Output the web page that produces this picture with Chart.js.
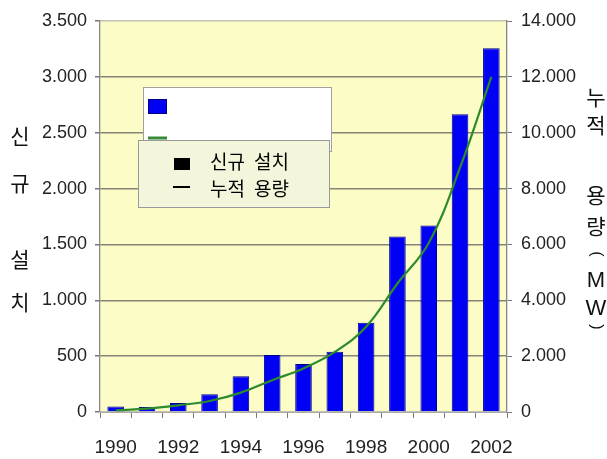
<!DOCTYPE html>
<html>
<head>
<meta charset="utf-8">
<script src="https://cdn.jsdelivr.net/npm/chart.js@4.4.1/dist/chart.umd.min.js"></script>
<style>
  body { margin: 0; background: #fff; }
  canvas { display: block; }
</style>
</head>
<body>
<canvas id="windChart" width="607" height="459"></canvas>
<script>
const years = ["1990", "1991", "1992", "1993", "1994", "1995", "1996", "1997", "1998", "1999", "2000", "2001", "2002"];
// new installations per year (left axis)
const newInstall = [50, 45, 80, 160, 320, 510, 430, 540, 800, 1570, 1670, 2665, 3255];
// cumulative capacity in MW (right axis)
const cumulative = [60, 120, 240, 395, 695, 1140, 1560, 2150, 3050, 4600, 6050, 8750, 12000];

const leftTitle = ["신", "규", "설", "치"];
const rightTitle = ["누", "적", "용", "량", "(", "M", "W", ")"];
const legendLabels = ["신규 설치", "누적 용량"];

const dotFormat = v => String(v).replace(/\B(?=(\d{3})+(?!\d))/g, ".");

const tickFont = { family: "'Liberation Sans', Arial, sans-serif", size: 18 };
const cjkFont = "'Noto Sans CJK KR', sans-serif";

const plotBackground = {
    id: "plotBackground",
    beforeDraw(chart) {
        const { ctx, chartArea: a } = chart;
        ctx.save();
        ctx.fillStyle = "#fcfcc6";
        ctx.fillRect(a.left, a.top, a.right - a.left, a.bottom - a.top);
        ctx.restore();
    }
};

const extras = {
    id: "extras",
    afterDraw(chart) {
        const ctx = chart.ctx;
        ctx.save();

        // vertical axis titles, one character per row
        ctx.fillStyle = "#111";
        ctx.font = "21px " + cjkFont;
        ctx.textAlign = "center";
        ctx.textBaseline = "middle";
        const leftY = [136, 183, 259, 302];
        leftTitle.forEach((ch, i) => ctx.fillText(ch, 20, leftY[i]));

        const rightY = [97, 125, 195, 226, 254, 281, 309, 327];
        rightTitle.forEach((ch, i) => {
            if (ch === "(" || ch === ")") {
                ctx.save();
                ctx.translate(596, rightY[i]);
                ctx.rotate(Math.PI / 2);
                ctx.font = "16px 'Liberation Sans', sans-serif";
                ctx.fillText(ch, 0, 0);
                ctx.restore();
            } else {
                ctx.font = (/[A-Z]/.test(ch) ? "22px 'Liberation Sans', sans-serif" : "21px " + cjkFont);
                ctx.fillText(ch, 596, rightY[i]);
            }
        });

        // original legend box, partly covered
        ctx.fillStyle = "#ffffff";
        ctx.fillRect(143, 87, 188, 65);
        ctx.strokeStyle = "#a0a0a0";
        ctx.lineWidth = 1;
        ctx.strokeRect(143.5, 87.5, 188, 64);
        ctx.fillStyle = "#0000f5";
        ctx.fillRect(148, 99, 19, 15);
        ctx.strokeStyle = "#000080";
        ctx.strokeRect(148.5, 99.5, 18, 14);
        ctx.strokeStyle = "#3a8a3a";
        ctx.lineWidth = 3;
        ctx.beginPath();
        ctx.moveTo(148, 138);
        ctx.lineTo(167, 138);
        ctx.stroke();

        // overlay legend
        ctx.fillStyle = "#f3f6da";
        ctx.fillRect(138, 140, 191, 67);
        ctx.strokeStyle = "#999999";
        ctx.lineWidth = 1;
        ctx.strokeRect(138.5, 140.5, 191, 67);

        ctx.fillStyle = "#000";
        ctx.fillRect(174, 158, 16, 12);
        ctx.fillRect(173, 186, 17, 2);

        ctx.font = "19px " + cjkFont;
        ctx.textAlign = "left";
        const rowsY = [162, 189];
        legendLabels.forEach((label, r) => {
            const words = label.split(" ");
            ctx.fillText(words[0], 210, rowsY[r]);
            ctx.fillText(words[1], 254, rowsY[r]);
        });

        ctx.restore();
    }
};

new Chart(document.getElementById("windChart"), {
    data: {
        labels: years,
        datasets: [
            {
                type: "line",
                label: legendLabels[1],
                data: cumulative,
                yAxisID: "y1",
                borderColor: "#2c8c2c",
                borderWidth: 2.2,
                pointRadius: 0,
                tension: 0.4,
                order: 0
            },
            {
                type: "bar",
                label: legendLabels[0],
                data: newInstall,
                yAxisID: "y",
                backgroundColor: "#0000f5",
                borderColor: "#00008a",
                borderWidth: 1,
                barPercentage: 0.53,
                categoryPercentage: 1,
                order: 1
            }
        ]
    },
    options: {
        responsive: false,
        animation: false,
        devicePixelRatio: 1,
        layout: { padding: { top: 21, left: 0, right: 0, bottom: 0 } },
        plugins: {
            legend: { display: false },
            tooltip: { enabled: false }
        },
        scales: {
            x: {
                grid: {
                    drawOnChartArea: false,
                    offset: true,
                    tickLength: 6,
                    color: "#777"
                },
                border: { color: "#aaa" },
                ticks: {
                    autoSkip: false,
                    maxRotation: 0,
                    padding: 18,
                    color: "#222",
                    font: { family: "'Liberation Sans', Arial, sans-serif", size: 19 },
                    callback: (v, i) => (i % 2 === 0 ? years[i] : "")
                },
                afterFit: s => { s.height = 47; }
            },
            y: {
                position: "left",
                min: 0,
                max: 3500,
                ticks: {
                    stepSize: 500,
                    padding: 8,
                    color: "#222",
                    font: tickFont,
                    callback: v => dotFormat(v)
                },
                grid: {
                    color: ctx => (ctx.tick.value === 3500 || ctx.tick.value === 0 ? "#c2c2b0" : "#85857c"),
                    lineWidth: 1.5,
                    tickLength: 5,
                    tickColor: "#777"
                },
                border: { color: "#888", width: 1.3 },
                afterFit: s => { s.width = 100; }
            },
            y1: {
                position: "right",
                min: 0,
                max: 14000,
                ticks: {
                    stepSize: 2000,
                    padding: 9,
                    color: "#222",
                    font: tickFont,
                    callback: v => dotFormat(v)
                },
                grid: {
                    drawOnChartArea: false,
                    tickLength: 5,
                    tickColor: "#777"
                },
                border: { color: "#888", width: 1.3 },
                afterFit: s => { s.width = 100; }
            }
        }
    },
    plugins: [plotBackground, extras]
});
</script>
</body>
</html>
